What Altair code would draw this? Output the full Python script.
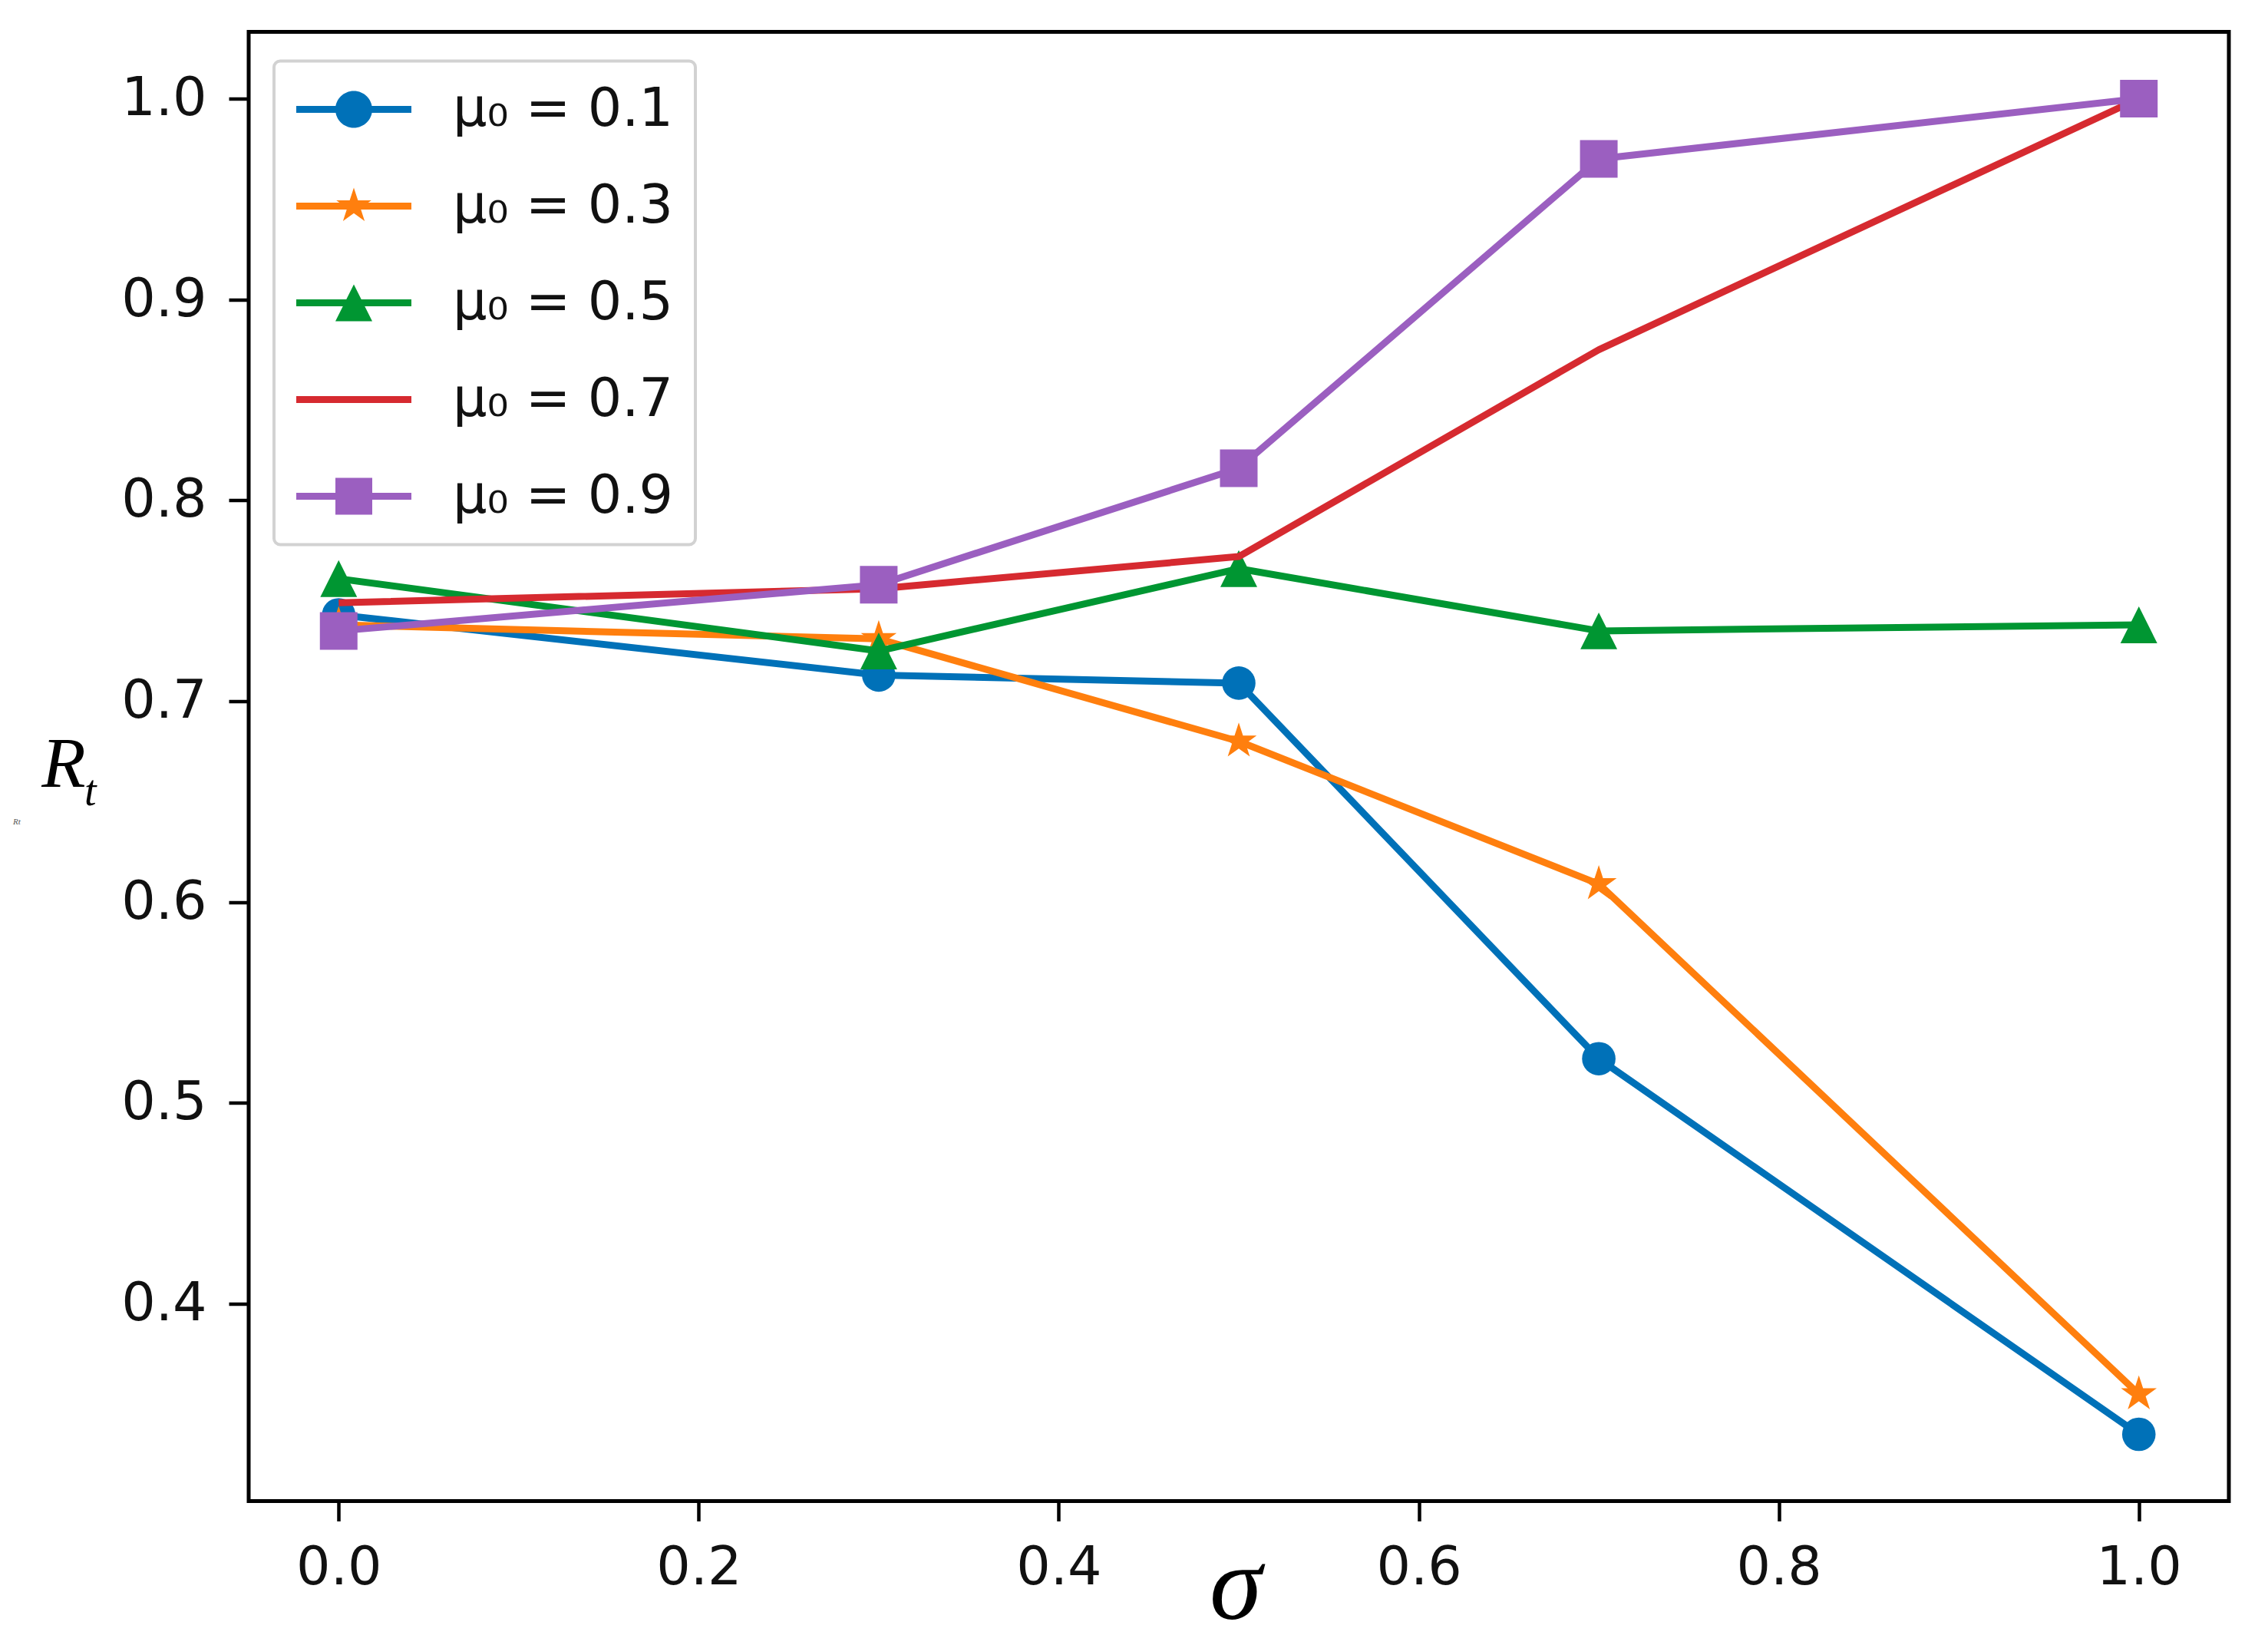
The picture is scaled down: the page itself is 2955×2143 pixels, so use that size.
import math
import altair as alt
import pandas as pd

# ---------------- data ----------------
sigma = [0.0, 0.3, 0.5, 0.7, 1.0]
mu01 = [0.743, 0.713, 0.709, 0.522, 0.335]
mu03 = [0.738, 0.731, 0.680, 0.609, 0.355]
mu05 = [0.761, 0.725, 0.766, 0.735, 0.738]
mu07 = [0.749, 0.756, 0.772, 0.875, 1.000]
mu09 = [0.735, 0.758, 0.816, 0.970, 1.000]

labels = ["μ₀ = 0.1", "μ₀ = 0.3", "μ₀ = 0.5", "μ₀ = 0.7", "μ₀ = 0.9"]
series_values = [mu01, mu03, mu05, mu07, mu09]
x_ticks = [0.0, 0.2, 0.4, 0.6, 0.8, 1.0]
y_ticks = [0.4, 0.5, 0.6, 0.7, 0.8, 0.9, 1.0]

colors = ["#0071b8", "#ff7f0e", "#009632", "#d62a30", "#9b5fc0"]

rows = []
for lab, vals in zip(labels, series_values):
    for s, v in zip(sigma, vals):
        rows.append({"sigma": s, "R": v, "series": lab})
df = pd.DataFrame(rows)


# ---------------- marker shapes ----------------
def star_path(R, ratio=0.381966):
    pts = []
    for i in range(10):
        ang = math.radians(-90 + 36 * i)
        rad = R if i % 2 == 0 else R * ratio
        pts.append((rad * math.cos(ang), rad * math.sin(ang)))
    return "M" + "L".join(f"{x:.4f},{y:.4f}" for x, y in pts) + "Z"


def circle_path(r):
    return (f"M{-r:.4f},0A{r:.4f},{r:.4f} 0 1,1 {r:.4f},0"
            f"A{r:.4f},{r:.4f} 0 1,1 {-r:.4f},0Z")


def tri_path(r):
    return f"M0,{-r:.4f}L{r:.4f},{r:.4f}L{-r:.4f},{r:.4f}Z"


def square_path(r):
    return f"M{-r:.4f},{-r:.4f}H{r:.4f}V{r:.4f}H{-r:.4f}Z"


# legend symbols: line segment + marker (unit = sqrt(size)/2 = 30 px)
LEG_UNIT = 30.0
mr = 24.0 / LEG_UNIT
lh = 4.5 / LEG_UNIT
line_seg = f"M-2.5,{-lh:.4f}H2.5V{lh:.4f}H-2.5Z"
legend_paths = [
    line_seg + circle_path(mr),
    line_seg + star_path(mr),
    line_seg + tri_path(mr),
    line_seg,
    line_seg + square_path(mr),
]

# plot markers: (shape, size)
markers = [
    ("circle", 1900),
    (star_path(1.0), 2400),
    (tri_path(1.0), 2300),
    None,
    ("square", 2400),
]

# ---------------- scales ----------------
W, H = 2580, 1914
xscale = alt.Scale(domain=[-0.05, 1.05], nice=False, zero=False)
yscale = alt.Scale(domain=[0.30175, 1.03325], nice=False, zero=False)
cscale = alt.Scale(domain=labels, range=colors)

xax = alt.Axis(values=x_ticks, format=".1f", title=None, labelFlush=False,
               labelPadding=27)
yax = alt.Axis(values=y_ticks, format=".1f", title=None, labelPadding=29)

layers = []
for i, lab in enumerate(labels):
    base = alt.Chart(df).transform_filter(alt.datum.series == lab)
    enc = dict(
        x=alt.X("sigma:Q", scale=xscale, axis=xax),
        y=alt.Y("R:Q", scale=yscale, axis=yax),
    )
    layers.append(
        base.mark_line(strokeWidth=9, strokeJoin="round",
                       color=colors[i]).encode(**enc)
    )
    if markers[i] is not None:
        shp, sz = markers[i]
        layers.append(
            base.mark_point(filled=True, opacity=1, shape=shp, size=sz,
                            strokeWidth=0, color=colors[i]).encode(**enc)
        )

leg = alt.Legend(
    title=None, orient="none", legendX=33, legendY=38,
    padding=28, rowPadding=56,
    labelFont="DejaVu Sans", labelFontSize=70, labelColor="#111111",
    labelLimit=1000, labelOffset=94, symbolOffset=41,
    symbolSize=3600, symbolOpacity=1, symbolStrokeWidth=0,
    strokeColor="#d2d2d2", fillColor="white", cornerRadius=8,
)
legend_layer = (
    alt.Chart(df)
    .mark_point(filled=True, opacity=0, size=3600, strokeWidth=0)
    .encode(
        x=alt.X("sigma:Q", scale=xscale, axis=xax),
        y=alt.Y("R:Q", scale=yscale, axis=yax),
        color=alt.Color("series:N", scale=cscale, legend=leg),
        shape=alt.Shape("series:N",
                        scale=alt.Scale(domain=labels, range=legend_paths),
                        legend=leg),
    )
)
layers.append(legend_layer)

# ---------------- axis titles as text ----------------
t_df = pd.DataFrame({"a": ["R"], "b": ["t"], "c": ["σ"], "d": ["Rt"]})
serif = "Liberation Serif"
r_text = alt.Chart(t_df).mark_text(
    font=serif, fontStyle="italic", fontSize=94, align="center",
    baseline="alphabetic", color="black"
).encode(text="a:N", x=alt.value(-241), y=alt.value(983))
t_text = alt.Chart(t_df).mark_text(
    font=serif, fontStyle="italic", fontSize=56, align="left",
    baseline="alphabetic", color="black"
).encode(text="b:N", x=alt.value(-214), y=alt.value(1007))
tiny_text = alt.Chart(t_df).mark_text(
    font=serif, fontStyle="italic", fontSize=11, align="left",
    baseline="alphabetic", color="#555555"
).encode(text="d:N", x=alt.value(-307), y=alt.value(1032))
s_text = alt.Chart(t_df).mark_text(
    font=serif, fontStyle="italic", fontSize=138, align="center",
    baseline="alphabetic", color="black"
).encode(text="c:N", x=alt.value(1286), y=alt.value(2067))

layers += [r_text, t_text, tiny_text, s_text]

chart = (
    alt.layer(*layers)
    .properties(
        width=W, height=H,
        autosize=alt.AutoSizeParams(type="none"),
        padding={"left": 316, "top": 33.5, "right": 30, "bottom": 185},
        background="white",
    )
    .configure_view(stroke="black", strokeWidth=5)
    .configure_axis(
        grid=False, domain=False, tickColor="black", tickWidth=4.5,
        tickSize=26, labelFont="DejaVu Sans", labelFontSize=70,
        labelColor="#111111",
    )
    .configure_legend(strokeWidth=4)
)

chart.save("out.html", embed_options={"renderer": "svg", "actions": False})
